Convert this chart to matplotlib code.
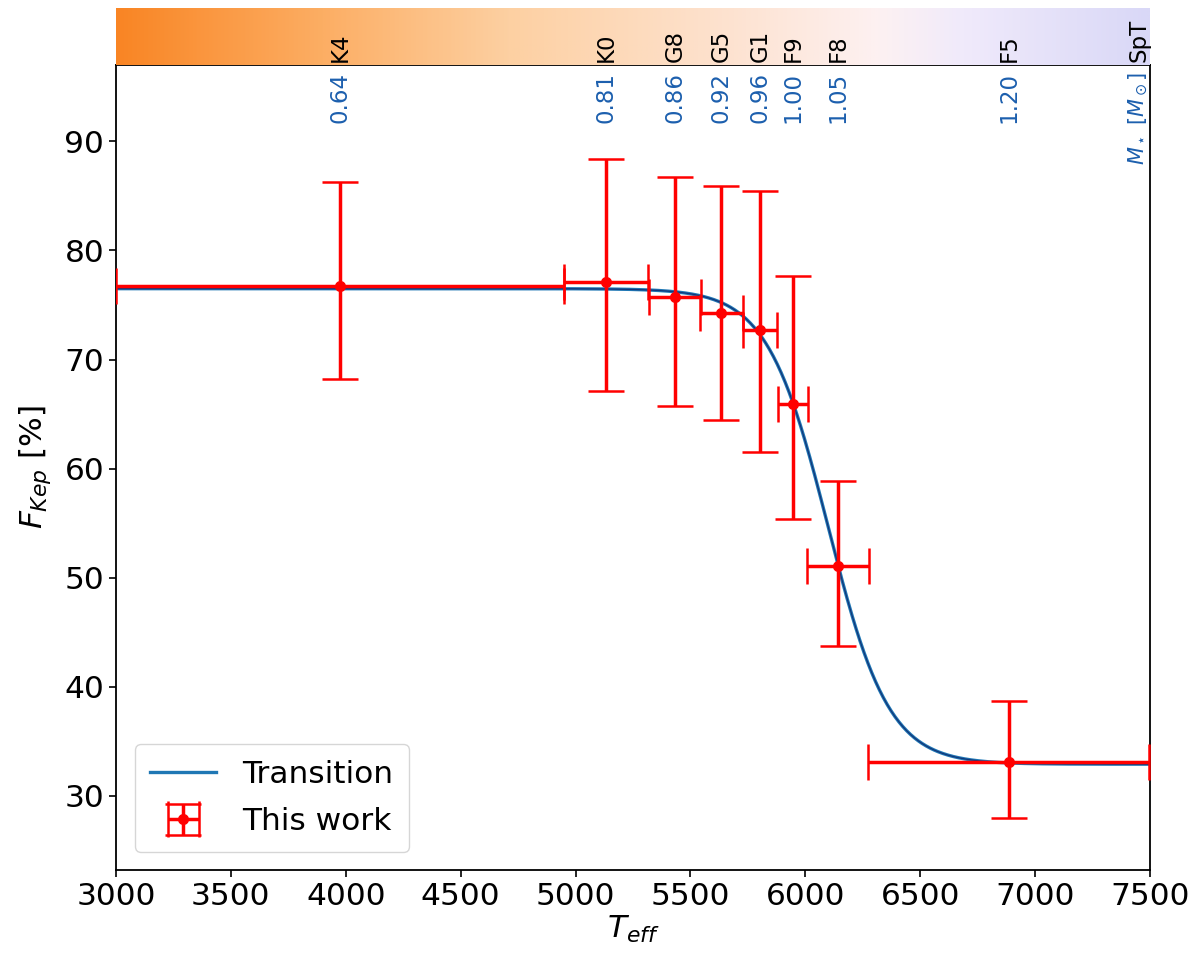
import numpy as np
import matplotlib
matplotlib.use("Agg")
import matplotlib.pyplot as plt
from matplotlib.colors import LinearSegmentedColormap

# ---- data ----
teff = [3975, 5132, 5433, 5635, 5802, 5948, 6143, 6886]
teff_err = [975, 183, 115, 92, 73, 65, 135, 612]
fkep = [76.7, 77.1, 75.7, 74.3, 72.7, 65.9, 51.1, 33.1]
fkep_err_lo = [8.5, 10.0, 10.0, 9.8, 11.2, 10.5, 7.4, 5.1]
fkep_err_hi = [9.6, 11.3, 11.0, 11.6, 12.8, 11.8, 7.8, 5.6]

# transition (logistic) model parameters
trans_high = 76.5
trans_low = 32.9
trans_t0 = 6099.0
trans_width = 132.6

spt_pos = [3975, 5132, 5433, 5635, 5802, 5948, 6143, 6886]
spt_labels = ["K4", "K0", "G8", "G5", "G1", "F9", "F8", "F5"]
mass_labels = ["0.64", "0.81", "0.86", "0.92", "0.96", "1.00", "1.05", "1.20"]

xlim = (3000, 7500)
ylim = (23.2, 97.0)

fig = plt.figure(figsize=(11.97, 9.57), dpi=100)
ax = fig.add_axes([0.0969, 0.0909, 0.8638, 0.8411])
cax = fig.add_axes([0.0969, 0.9320, 0.8638, 0.0596])

FS = 22.5

# transition curve
T = np.linspace(xlim[0], xlim[1], 800)
model = trans_low + (trans_high - trans_low) / (1.0 + np.exp((T - trans_t0) / trans_width))
ax.plot(T, model, color="tab:blue", lw=2.4, label="Transition", zorder=2)
ax.plot(T, model, color="#12367a", lw=0.9, zorder=2.1)

ax.errorbar(teff, fkep, xerr=teff_err, yerr=[fkep_err_lo, fkep_err_hi],
            fmt="o", color="red", ecolor="red", ms=7, elinewidth=2.5,
            capsize=13, capthick=1.8, label="This work", zorder=3)

ax.set_xlim(*xlim)
ax.set_ylim(*ylim)
ax.set_xticks(np.arange(3000, 7501, 500))
ax.set_yticks(np.arange(30, 91, 10))
ax.tick_params(labelsize=FS, length=5, width=1.2)
for s in ax.spines.values():
    s.set_linewidth(1.3)
ax.set_xlabel(r"$T_{eff}$", fontsize=FS, labelpad=2)
ax.set_ylabel(r"$F_{Kep}$ [%]", fontsize=FS, labelpad=8)

leg = ax.legend(loc="lower left", fontsize=FS, borderpad=0.5,
                handlelength=2.1, handletextpad=0.85, labelspacing=0.6,
                bbox_to_anchor=(0.003, 0.003))

# mass labels inside axes top
mass_color = "#1c5fae"
for x, m in zip(spt_pos, mass_labels):
    ax.text(x, ylim[1] - 0.6, m, rotation=90, ha="center", va="top",
            fontsize=16.5, color=mass_color)
ax.text(7452, ylim[1] - 0.6, r"$M_\star$ [$M_\odot$]", rotation=90,
        ha="center", va="top", fontsize=15, color=mass_color)

# colour bar on top
cmap = LinearSegmentedColormap.from_list(
    "spt", [(0.0, "#f98524"), (0.2, "#fcae64"), (0.38, "#fdd0a2"),
            (0.62, "#fde5d6"), (0.74, "#fdf1f2"), (0.82, "#f0eafb"),
            (1.0, "#d9d8f7")])
grad = np.linspace(0, 1, 512).reshape(1, -1)
cax.imshow(grad, aspect="auto", cmap=cmap, extent=[xlim[0], xlim[1], 0, 1])
cax.set_xlim(*xlim)
cax.set_ylim(0, 1)
cax.set_xticks([])
cax.set_yticks([])
for s in cax.spines.values():
    s.set_visible(False)
for x, s in zip(spt_pos, spt_labels):
    cax.text(x, 0.05, s, rotation=90, ha="center", va="bottom",
             fontsize=16.5, color="black")
cax.text(7452, 0.05, "SpT", rotation=90, ha="center", va="bottom",
         fontsize=16.5, color="black")

fig.savefig("out.png", dpi=100)
